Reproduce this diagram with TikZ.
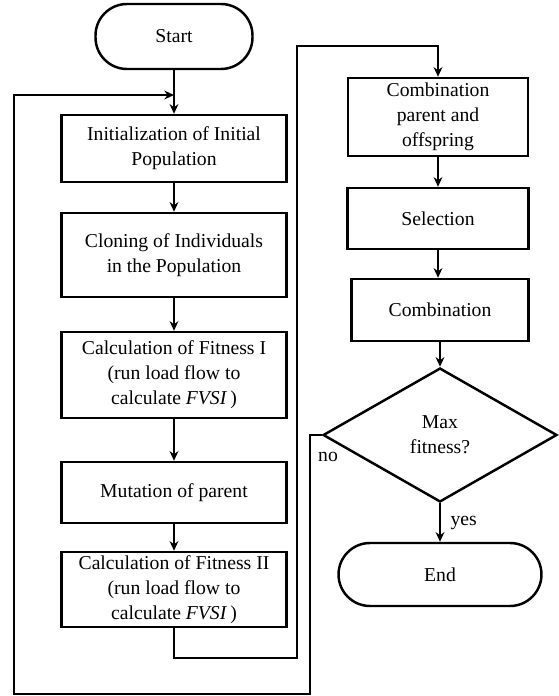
\documentclass[tikz,border=0pt]{standalone}
\usepackage{fontspec}
\setmainfont{Liberation Serif}
\usetikzlibrary{shapes.geometric, arrows.meta}
\tikzstyle{startstop} = [
    rectangle,
    rounded corners=0.63cm,
    minimum width=3.14cm,
    minimum height=1.3cm,
    line width=1.4pt,
    draw=black
]
\tikzstyle{process} = [
    rectangle,
    minimum width=4.5cm,
    align=center,
    inner sep=1pt,
    line width=1.4pt,
    draw=black
]
\tikzstyle{decision} = [
    diamond,
    aspect=1.75,
    minimum width=4.68cm,
    minimum height=2.68cm,
    inner sep=0pt,
    align=center,
    line width=1.4pt,
    draw=black
]
\tikzstyle{arrow} = [line width=1.3pt,-{Stealth[length=5.5pt,width=5pt]}]

\begin{document}
\begin{tikzpicture}[x=0.02cm, y=-0.02cm,
    font=\fontsize{11.2}{14.2}\selectfont]
\useasboundingbox (0,0) rectangle (558,696);

% left column
\node (start) [startstop] at (174,36.5) {Start};
\node (init) [process, minimum height=1.34cm] at (174,148.5)
{Initialization of Initial\\Population};
\node (clone) [process, minimum height=1.68cm] at (174,255)
{Cloning of Individuals\\in the Population};
\node (fit1) [process, minimum height=1.72cm] at (174,375)
{Calculation of Fitness I\\(run load flow to\\calculate \textit{FVSI}\,)};
\node (mutate) [process, minimum height=1.22cm] at (174,492.5)
{Mutation of parent};
\node (fit2) [process, minimum height=1.5cm] at (174,589.5)
{Calculation of Fitness II\\(run load flow to\\calculate \textit{FVSI}\,)};

% right column
\node (combine1) [process, minimum width=3.6cm, minimum height=1.56cm] at (438,117)
{Combination\\parent and\\offspring};
\node (select) [process, minimum width=3.62cm, minimum height=1.22cm] at (438,218.5)
{Selection};
\node (combine2) [process, minimum width=3.54cm, minimum height=1.24cm] at (440,310)
{Combination};
\node (decide) [decision] at (440,435) {Max\\fitness?};
\node (stop) [startstop, minimum width=4.06cm, minimum height=1.26cm] at (440,574.5)
{End};

\coordinate (join) at (174,95);

\draw [arrow] (start) -- (init);
\draw [arrow] (init) -- (clone);
\draw [arrow] (clone) -- (fit1);
\draw [arrow] (fit1) -- (mutate);
\draw [arrow] (mutate) -- (fit2);

\draw [arrow] (fit2.south) |- (297,658) |- (438,46) -- (combine1.north);
\draw [arrow] (combine1) -- (select);
\draw [arrow] (select.south) -- (combine2.north -| select.south);
\draw [arrow] (combine2) -- (decide);
\draw [arrow] (decide) -- node [right, xshift=2pt] {yes} (stop);

\draw [arrow] (decide.west) -- (310,435) |- (14,694) |- (join);
\node (no) at (328,457) {no};

\end{tikzpicture}
\end{document}
